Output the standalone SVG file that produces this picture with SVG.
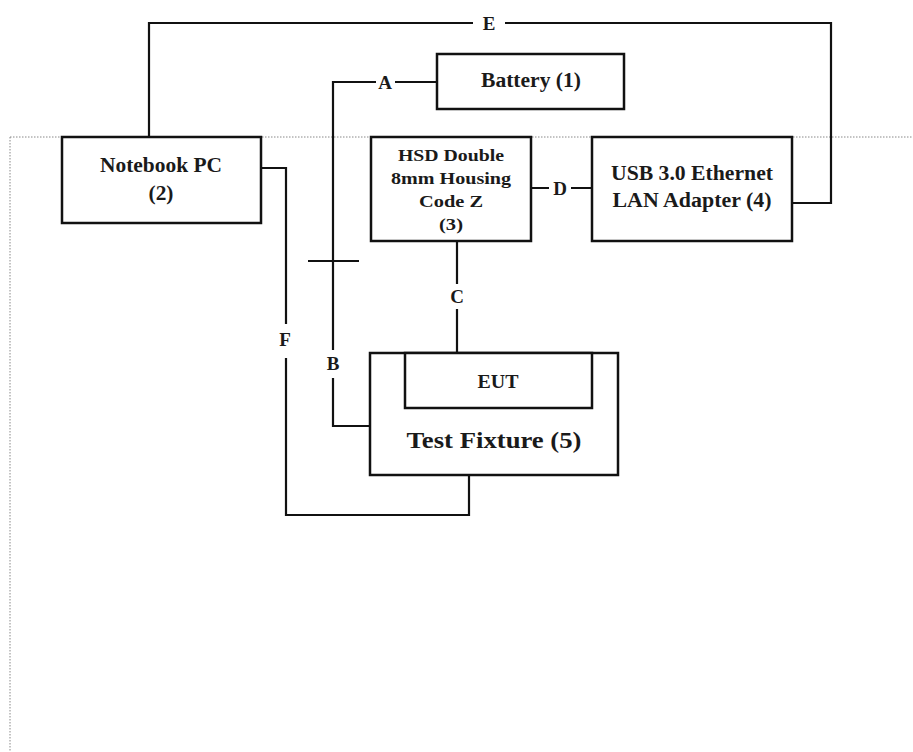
<svg xmlns="http://www.w3.org/2000/svg" width="913" height="752" viewBox="0 0 913 752">
<style>
.box{fill:#fff;stroke:#111;stroke-width:2.5}
.ln{fill:none;stroke:#111;stroke-width:2.2}
.t{font-family:"Liberation Serif","Times New Roman",serif;font-weight:bold;fill:#1a1a1a;text-anchor:middle;dominant-baseline:central}
</style>
<rect width="913" height="752" fill="#fff"/>
<path d="M10 137 H913 M10 137 V752" fill="none" stroke="#888" stroke-width="1" stroke-dasharray="1.5 1.5"/>
<g id="connectors">
<path class="ln" d="M149 137 V23 H473 M505 23 H831 V203 H792"/>
<path class="ln" d="M437 82 H395 M376 82 H333 V350 M333 378 V426 H370"/>
<path class="ln" d="M308 261 H359"/>
<path class="ln" d="M457 241 V284 M457 309 V353"/>
<path class="ln" d="M531 188 H549 M571 188 H592"/>
<path class="ln" d="M261 168 H286 V324 M286 358 V515 H469 V475"/>
<text class="t" x="489" y="23" font-size="19">E</text>
<text class="t" x="385" y="82" font-size="19">A</text>
<text class="t" x="333" y="363" font-size="19">B</text>
<text class="t" x="457" y="296" font-size="19">C</text>
<text class="t" x="560" y="188" font-size="19">D</text>
<text class="t" x="285" y="339" font-size="19">F</text>
</g>
<g id="battery">
<rect class="box" x="437" y="54" width="187" height="55"/>
<text class="t" x="531" y="80" font-size="20" textLength="100" lengthAdjust="spacingAndGlyphs">Battery (1)</text>
</g>
<g id="notebook">
<rect class="box" x="62" y="137" width="199" height="86"/>
<text class="t" x="161" y="165" font-size="20" textLength="122" lengthAdjust="spacingAndGlyphs">Notebook PC</text>
<text class="t" x="161" y="193" font-size="20" textLength="25" lengthAdjust="spacingAndGlyphs">(2)</text>
</g>
<g id="hsd">
<rect class="box" x="371" y="137" width="160" height="104"/>
<text class="t" x="451" y="155" font-size="17" textLength="106" lengthAdjust="spacingAndGlyphs">HSD Double</text>
<text class="t" x="451" y="178" font-size="17" textLength="120" lengthAdjust="spacingAndGlyphs">8mm Housing</text>
<text class="t" x="451" y="201" font-size="17" textLength="64" lengthAdjust="spacingAndGlyphs">Code Z</text>
<text class="t" x="451" y="224" font-size="17" textLength="24" lengthAdjust="spacingAndGlyphs">(3)</text>
</g>
<g id="usb">
<rect class="box" x="592" y="137" width="200" height="104"/>
<text class="t" x="692" y="173" font-size="20" textLength="162" lengthAdjust="spacingAndGlyphs">USB 3.0 Ethernet</text>
<text class="t" x="692" y="200" font-size="20" textLength="159" lengthAdjust="spacingAndGlyphs">LAN Adapter (4)</text>
</g>
<g id="fixture">
<rect class="box" x="370" y="353" width="248" height="122"/>
<rect class="box" x="405" y="353" width="187" height="55"/>
<text class="t" x="498" y="381" font-size="19" textLength="41" lengthAdjust="spacingAndGlyphs">EUT</text>
<text class="t" x="494" y="440" font-size="24" textLength="175" lengthAdjust="spacingAndGlyphs">Test Fixture (5)</text>
</g>
</svg>
